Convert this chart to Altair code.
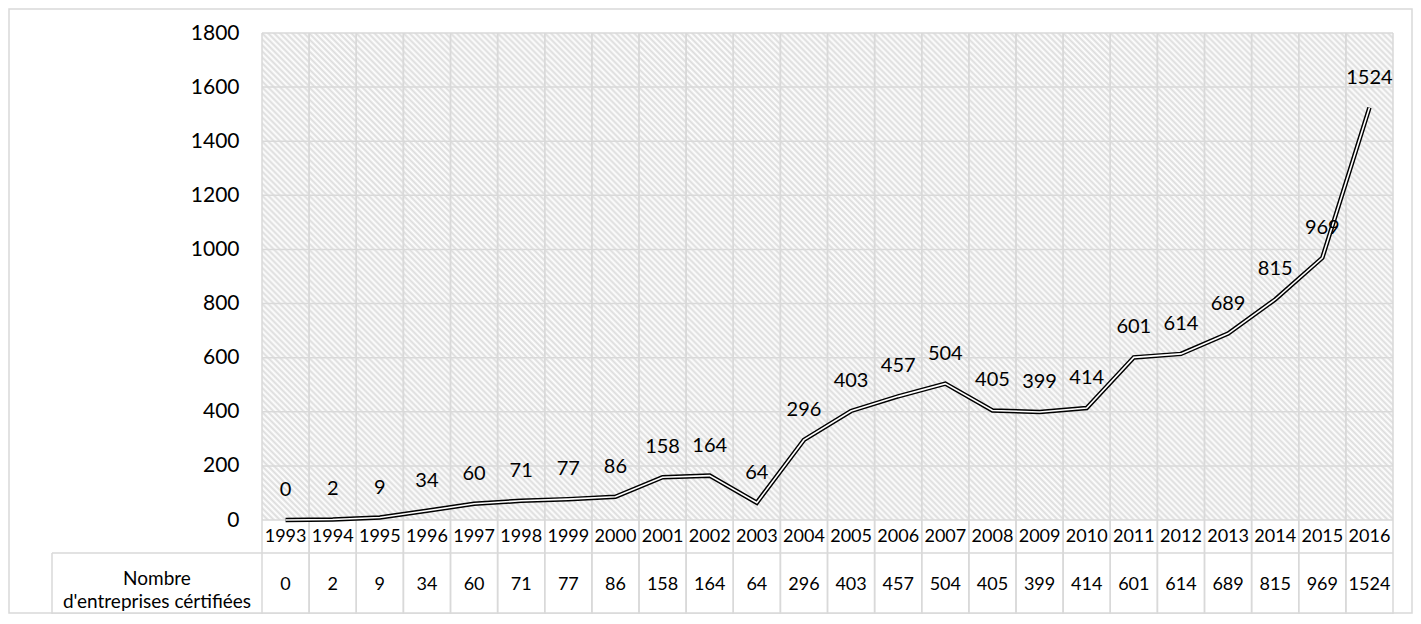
import altair as alt
import pandas as pd

# ---- data ----
years = ["1993", "1994", "1995", "1996", "1997", "1998", "1999", "2000", "2001", "2002",
         "2003", "2004", "2005", "2006", "2007", "2008", "2009", "2010", "2011", "2012",
         "2013", "2014", "2015", "2016"]
values = [0, 2, 9, 34, 60, 71, 77, 86, 158, 164, 64, 296, 403, 457, 504, 405, 399, 414,
          601, 614, 689, 815, 969, 1524]
y_ticks = [0, 200, 400, 600, 800, 1000, 1200, 1400, 1600, 1800]
row_label = ["Nombre", "d'entreprises cértifiées"]

# ---- layout / style ----
W, H = 1131, 487
FONT = "Lato"
GRID = "#d9d9d9"
HATCH = "#dcdcdc"

df = pd.DataFrame({"year": years, "value": values})
ticks_df = pd.DataFrame({"value": y_ticks})
single = alt.Data(values=[{"k": 1}])

# background cells (one per grid cell) carrying the hatch pattern
cells = pd.DataFrame([{"year": yr, "lo": lo, "hi": hi}
                      for yr in years for lo, hi in zip(y_ticks[:-1], y_ticks[1:])])

xscale = alt.Scale(type="band", paddingInner=0, paddingOuter=0)
yscale = alt.Scale(domain=[0, 1800], nice=False, zero=True)
yaxis = alt.Axis(values=y_ticks, format="d", grid=False, domain=False, ticks=False,
                 labelPadding=23, labelFontSize=21, labelFont=FONT, labelColor="black",
                 title=None)


def xenc(bp):
    return alt.X("year:O", bandPosition=bp, scale=xscale, axis=None, sort=None)


# diagonal hatch as a striped linear gradient (45 deg downward lines) per cell
cw = W / len(years)
ch = H / (len(y_ticks) - 1)
r = ch / cw
s = (1 + r) / (1 + r * r)
period = 6.0
N = (cw + ch) / period
stops = []
k = 0
while k / N < 1:
    a = k / N
    b = min((k + 0.5) / N, 1.0)
    stops += [{"offset": a, "color": HATCH}, {"offset": b, "color": "white"}]
    k += 1
grad = {"gradient": "linear", "x1": 0, "y1": 1, "x2": s, "y2": 1 - s * r, "stops": stops}

hatch = alt.Chart(cells).mark_rect(fill=grad, strokeWidth=0).encode(
    x=xenc(0), y=alt.Y("lo:Q", scale=yscale, axis=yaxis), y2="hi:Q")

hgrid = alt.Chart(ticks_df).mark_rule(color=GRID, strokeWidth=1.5).encode(
    y=alt.Y("value:Q", scale=yscale, axis=yaxis), x=alt.value(0), x2=alt.value("width"))

vgrid0 = alt.Chart(df).mark_rule(color=GRID, strokeWidth=1.5).encode(
    x=xenc(0), y=alt.value(0), y2=alt.value(581))
vgrid1 = alt.Chart(df).mark_rule(color=GRID, strokeWidth=1.5).encode(
    x=xenc(1), y=alt.value(0), y2=alt.value(581))

row_line1 = alt.Chart(single).mark_rule(color=GRID, strokeWidth=1.5).encode(
    x=alt.value(-210), x2=alt.value("width"), y=alt.value(520))
row_line2 = alt.Chart(single).mark_rule(color=GRID, strokeWidth=1.5).encode(
    x=alt.value(-210), x2=alt.value("width"), y=alt.value(581))
row_left = alt.Chart(single).mark_rule(color=GRID, strokeWidth=1.5).encode(
    x=alt.value(-210), y=alt.value(520), y2=alt.value(581))

line_outer = alt.Chart(df).mark_line(color="black", strokeWidth=4.5).encode(
    x=xenc(0.5), y=alt.Y("value:Q", scale=yscale, axis=yaxis))
line_inner = alt.Chart(df).mark_line(color="white", strokeWidth=1.6).encode(
    x=xenc(0.5), y=alt.Y("value:Q", scale=yscale, axis=yaxis))

labels = alt.Chart(df).mark_text(font=FONT, fontSize=20, color="black", dy=-30,
                                 baseline="middle").encode(
    x=xenc(0.5), y=alt.Y("value:Q", scale=yscale, axis=yaxis), text="value:Q")

year_row = alt.Chart(df).mark_text(font=FONT, fontSize=18, color="black",
                                   baseline="middle").encode(
    x=xenc(0.5), y=alt.value(504), text="year:N")
value_row = alt.Chart(df).mark_text(font=FONT, fontSize=18, color="black",
                                    baseline="middle").encode(
    x=xenc(0.5), y=alt.value(552), text="value:Q")

header = alt.Chart(single).mark_text(font=FONT, fontSize=19, color="black",
                                     baseline="middle", align="center",
                                     lineHeight=23).encode(
    x=alt.value(-105), y=alt.value(546), text=alt.value(row_label))

border = alt.Chart(single).mark_rect(fillOpacity=0, stroke=GRID, strokeWidth=1.5).encode(
    x=alt.value(-253), x2=alt.value(W + 19), y=alt.value(-24), y2=alt.value(H + 93))

chart = alt.layer(
    hatch, hgrid, vgrid0, vgrid1, row_line1, row_line2, row_left,
    line_outer, line_inner, labels, year_row, value_row, header, border
).properties(
    width=W, height=H,
    padding={"left": 254, "top": 25, "right": 20, "bottom": 94},
    autosize=alt.AutoSizeParams(type="none"),
).configure_view(stroke=None)

chart.save("out.html", embed_options={"renderer": "svg", "actions": False})
